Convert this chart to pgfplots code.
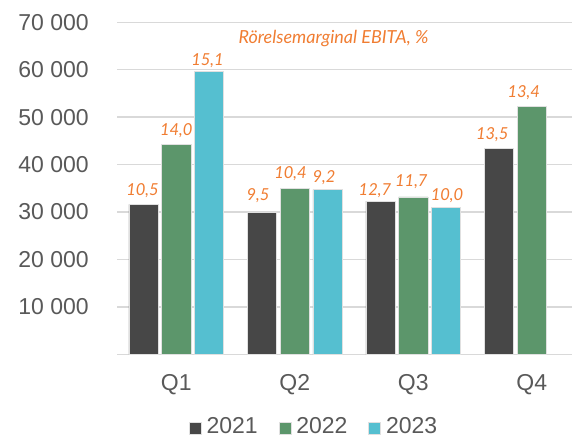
\documentclass[border=0pt]{standalone}
\usepackage{pgfplots}
\pgfplotsset{compat=1.18}
\usepackage{pgfplotstable}
\usepackage{fontspec}
\setmainfont{Liberation Sans}
\newfontfamily\labelfont{Lato}
\definecolor{c21}{HTML}{474747}
\definecolor{c22}{HTML}{5C966B}
\definecolor{c23}{HTML}{55BFD0}
\definecolor{org}{HTML}{F07D32}
\definecolor{txt}{HTML}{595959}
\definecolor{grd}{HTML}{D9D9D9}

\pgfplotstableread{
q y
0 31600
1 29900
2 32300
3 43400
}\yearA
\pgfplotstableread{
q y
0 44200
1 34900
2 33200
3 52200
}\yearB
\pgfplotstableread{
q y
0 59600
1 34700
2 31000
}\yearC
\pgfplotstableread{
x y lab
-0.285 33587 10,5
0.000 46237 14,0
0.264 60996 15,1
0.690 32385 9,5
0.964 37108 10,4
1.247 36264 9,2
1.677 33439 12,7
1.984 35337 11,7
2.285 32385 10,0
2.667 45331 13,5
2.933 54186 13,4
}\margins

\begin{document}
\begin{tikzpicture}
\begin{axis}[
  at={(117bp,83.7bp)}, anchor=south west,
  scale only axis, width=455bp, height=332bp,
  xmin=-0.5, xmax=3.34, ymin=0, ymax=70000,
  axis line style={draw=none},
  major tick length=0pt,
  scaled y ticks=false,
  ytick={0,10000,20000,30000,40000,50000,60000,70000},
  yticklabels={{},10 000,20 000,30 000,40 000,50 000,60 000,70 000},
  ymajorgrids, grid style={grd, line width=1.4bp},
  xtick={0,1,2,3}, xticklabels={Q1,Q2,Q3,Q4},
  ticklabel style={font=\fontsize{23bp}{27bp}\selectfont, text=txt, inner sep=0pt},
  yticklabel style={anchor=east, xshift=-28bp},
  xticklabel style={anchor=base, yshift=-36bp},
  clip=false,
  legend columns=3,
  legend style={at={(0.431,-0.217)}, anchor=center, draw=none, fill=none,
    font=\fontsize{23bp}{27bp}\selectfont, text=txt, inner sep=0pt,
    /tikz/every odd column/.append style={column sep=5bp},
    /tikz/every even column/.append style={column sep=21bp},
    nodes={inner sep=0pt}},
  legend image code/.code={\fill[#1] (0bp,-8bp) rectangle (12bp,4bp);},
]
\addplot[ybar, bar width=0.247, bar shift=-0.276, fill=c21, draw=white!88!black, line width=0.6bp] table[x=q,y=y]{\yearA};
\addlegendentry{2021}
\addplot[ybar, bar width=0.247, bar shift=0, fill=c22, draw=white!88!black, line width=0.6bp] table[x=q,y=y]{\yearB};
\addlegendentry{2022}
\addplot[ybar, bar width=0.247, bar shift=0.276, fill=c23, draw=white!88!black, line width=0.6bp] table[x=q,y=y]{\yearC};
\addlegendentry{2023}
\addplot[forget plot, draw=none, mark=none, nodes near coords, point meta=explicit symbolic,
  every node near coord/.append style={anchor=base, inner sep=0pt, text=org, font=\labelfont\itshape\fontsize{16.5bp}{19bp}\selectfont}]
  table[x=x,y=y,meta=lab]{\margins};
\node[anchor=base, inner sep=0pt, text=org, font=\labelfont\itshape\fontsize{18bp}{21bp}\selectfont] at (axis cs:1.327,65635) {Rörelsemarginal EBITA, \%};
\end{axis}
\pgfresetboundingbox
\useasboundingbox (0,0) rectangle (572bp,438bp);
\end{tikzpicture}
\end{document}
